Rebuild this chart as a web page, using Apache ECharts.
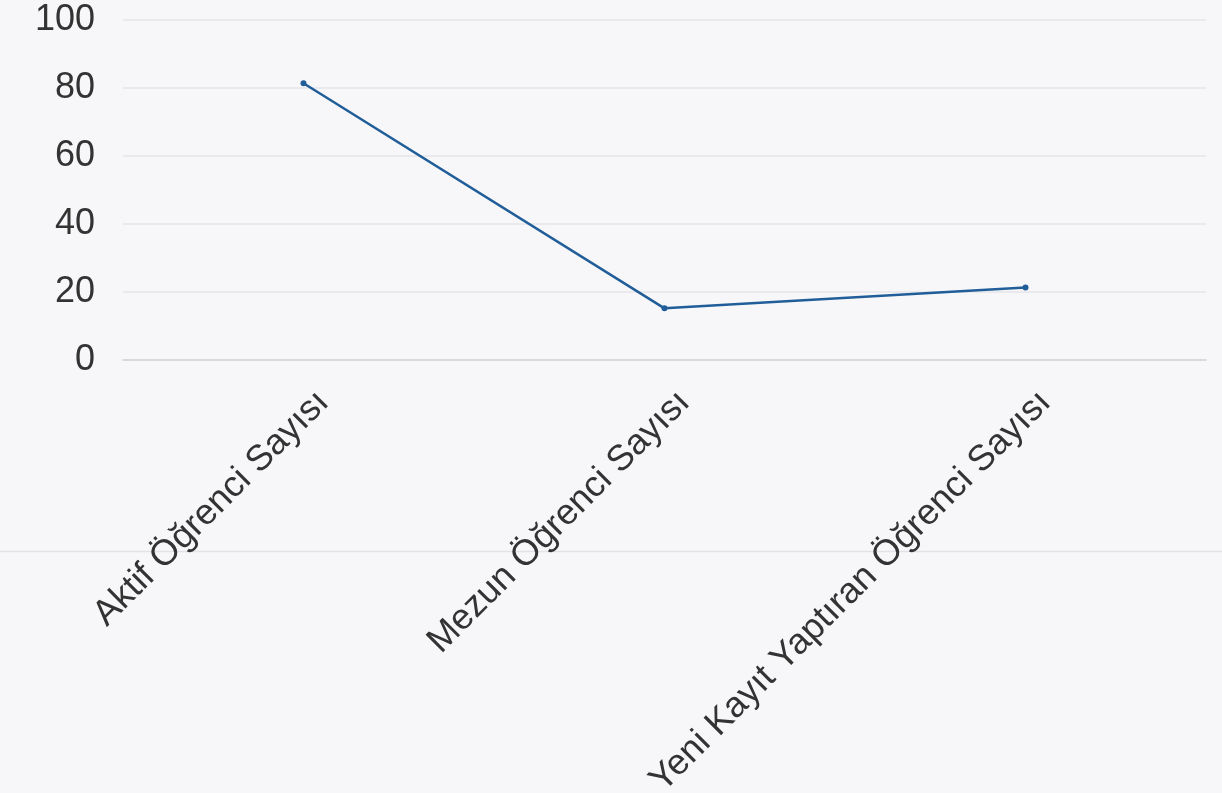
<!DOCTYPE html>
<html>
<head>
<meta charset="utf-8">
<script src="https://cdn.jsdelivr.net/npm/echarts@6/dist/echarts.min.js"></script>
<style>
html,body{margin:0;padding:0;background:#f7f7f9;}
#c{width:1222px;height:793px;}
</style>
</head>
<body>
<div id="c"></div>
<script>
const categories = ['Aktif Öğrenci Sayısı', 'Mezun Öğrenci Sayısı', 'Yeni Kayıt Yaptıran Öğrenci Sayısı'];
const values = [81.4, 15.2, 21.3];
const yTicks = [0, 20, 40, 60, 80, 100];

const chart = echarts.init(document.getElementById('c'));
chart.setOption({
  backgroundColor: '#f7f7f9',
  animation: false,
  grid: {left: 123, right: 16, top: 20, bottom: 433, containLabel: false, outerBoundsMode: 'none'},
  graphic: [{
    type: 'line',
    shape: {x1: 0, y1: 551.5, x2: 1222, y2: 551.5},
    style: {stroke: '#e2e2e8', lineWidth: 1.5},
    z: 0
  }],
  xAxis: {
    type: 'category',
    data: categories,
    boundaryGap: true,
    axisLine: {show: true, lineStyle: {color: '#d2d2d8', width: 1.5}},
    axisTick: {show: false},
    axisLabel: {rotate: 45, color: '#333', fontSize: 36, fontFamily: 'Liberation Sans, Arial, sans-serif',
      margin: 17, interval: 0, verticalAlign: 'top', lineHeight: 56}
  },
  yAxis: {
    type: 'value',
    min: yTicks[0],
    max: yTicks[yTicks.length - 1],
    interval: 20,
    axisLine: {show: false},
    axisTick: {show: false},
    splitLine: {lineStyle: {color: '#e4e4ea', width: 1.5}},
    axisLabel: {color: '#333', fontSize: 36, fontFamily: 'Liberation Sans, Arial, sans-serif', margin: 28}
  },
  series: [{
    type: 'line',
    data: values,
    symbol: 'circle',
    symbolSize: 6,
    lineStyle: {color: '#215e99', width: 2.5},
    itemStyle: {color: '#215e99'}
  }]
});
</script>
</body>
</html>
